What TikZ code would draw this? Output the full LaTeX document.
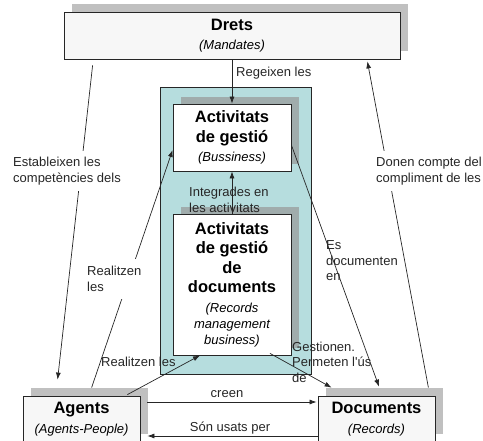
\documentclass[tikz,border=0pt]{standalone}
\usepackage{fontspec}
\setmainfont{Liberation Sans}
\usepackage{tikz}
\usetikzlibrary{shadows}
\usetikzlibrary{positioning}
\usetikzlibrary{arrows.meta}
\usetikzlibrary{calc}
\definecolor{tealzone}{HTML}{B6DDDE}
\definecolor{boxfill}{HTML}{F7F7F7}
\definecolor{outershade}{HTML}{C0C0C0}
\definecolor{innershade}{HTML}{A0ACAC}
\newcommand{\eng}[1]{{\fontsize{13}{16}\selectfont\mdseries\itshape #1}}
\tikzstyle{outerbox}=[draw=black!85,fill=boxfill,line width=0.8pt,align=center,inner sep=0pt,font=\fontsize{16.5}{19.5}\selectfont\bfseries,drop shadow={shadow xshift=7.5pt,shadow yshift=7.5pt,fill=outershade,opacity=1}]
\tikzstyle{innerbox}=[draw=black!85,fill=white,line width=0.8pt,align=center,inner sep=0pt,font=\fontsize{16.5}{19.5}\selectfont\bfseries,drop shadow={shadow xshift=8pt,shadow yshift=7pt,fill=innershade,opacity=1}]
\tikzstyle{zone}=[draw=black!85,fill=tealzone,line width=0.8pt]
\tikzstyle{link}=[-{Latex[length=7pt,width=5pt]},line width=0.7pt,draw=black!85]
\tikzstyle{lbl}=[font=\fontsize{13}{15.5}\selectfont,align=left,inner sep=0pt,text=black!85]

\begin{document}
\begin{tikzpicture}[x=1pt,y=-1pt]
\useasboundingbox (0,0) rectangle (483,441);

% boxes
\node[zone,minimum width=151pt,minimum height=287pt] (zone) at (235.5,230.5) {};
\node[outerbox,minimum width=336pt,minimum height=47pt] (drets) at (232,35.5) {Drets\\\eng{(Mandates)}};
\node[innerbox,minimum width=118pt,minimum height=67pt] (act1) at (232,137.5) {Activitats\\de gestió\\\eng{(Bussiness)}};
\node[innerbox,minimum width=118pt,minimum height=141pt] (act2) at (232,284.5) {Activitats\\de gestió\\de\\documents\\\eng{(Records}\\[-3pt]\eng{management}\\[-4pt]\eng{business)}};
\node[outerbox,minimum width=117pt,minimum height=46pt] (agents) at (81.5,419) {Agents\\\eng{(Agents-People)}};
\node[outerbox,minimum width=117pt,minimum height=46pt] (documents) at (376.5,419) {Documents\\\eng{(Records)}};

% connectors
\draw[link] (drets.south) -- (act1.north);
\draw[link] (act2.north) -- (act1.south);
\draw[link] ([shift={(29,6)}]drets.south west) -- ([shift={(35,-16)}]agents.north west);
\draw[link] ([shift={(69,-8)}]agents.north west) -- ([shift={(0,12.5)}]act1.west);
\draw[link] ([shift={(0,7.5)}]act1.east) -- ([shift={(2.5,-9)}]documents.north);
\draw[link] ([shift={(-7,-8)}]documents.north east) -- ([shift={(-33,2)}]drets.south east);
\draw[link] ([shift={(-13,-1)}]agents.north east) -- ([shift={(-32,0)}]act2.south);
\draw[link] ([shift={(38,-2)}]act2.south) -- ([shift={(14,-8)}]documents.north west);
\draw[link] ([shift={(7,-17)}]agents.east) -- ([shift={(-1,-17)}]documents.west);
\draw[link] ([shift={(0,17)}]documents.west) -- ([shift={(7,17)}]agents.east);

% labels
\node[lbl,anchor=west] (regeixen) at (236,73) {Regeixen les};
\node[lbl,anchor=west,fill=white,inner xsep=3pt,inner ysep=6pt] (estableixen) at (10,171) {Estableixen les\\competències dels};
\node[lbl,anchor=west] (integrades) at (189,200) {Integrades en\\les activitats};
\node[lbl,anchor=west,fill=white,inner xsep=3pt,inner ysep=6pt] (donen) at (373,171) {Donen compte del\\compliment de les};
\node[lbl,anchor=west,fill=white,inner xsep=9pt,inner ysep=7pt] (realitzen) at (78,279) {Realitzen\\les};
\node[lbl,anchor=west] (documenten) at (326,261) {Es\\documenten\\en};
\node[lbl,anchor=west] (realitzenles) at (101,362) {Realitzen les};
\node[lbl,anchor=west] (gestionen) at (292,362) {Gestionen.\\Permeten l\textquotesingle ús\\de};
\node[lbl] (creen) at (227,394) {creen};
\node[lbl] (usats) at (230,428) {Són usats per};

\end{tikzpicture}
\end{document}
